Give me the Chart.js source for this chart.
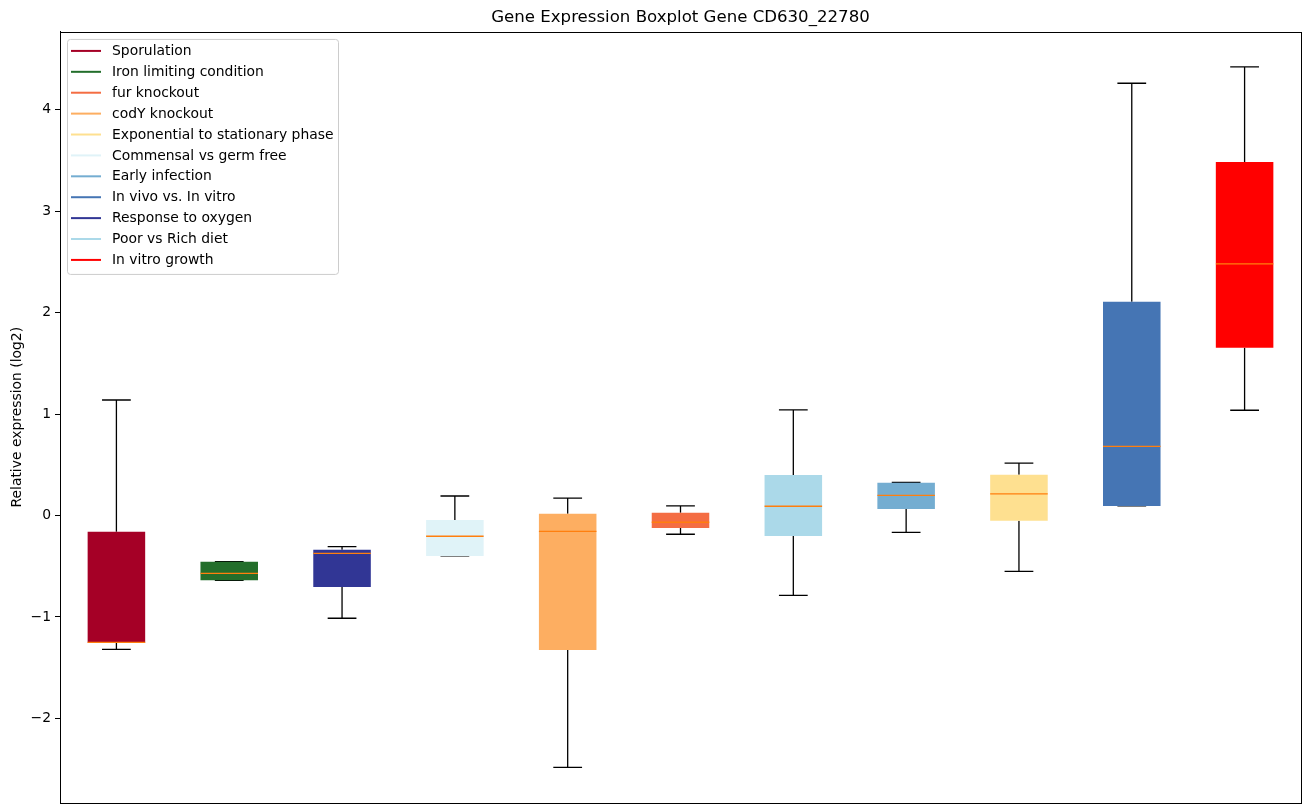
<!DOCTYPE html>
<html><head><meta charset="utf-8">
<script src="https://cdn.jsdelivr.net/npm/chart.js@4.4.0/dist/chart.umd.min.js"></script>
<style>html,body{margin:0;padding:0;background:#fff;} #wrap{width:1309px;height:812px;position:relative;}</style>
</head><body><div id="wrap"><canvas id="c"></canvas></div>
<script>
// ---- data ----
const categories = ["Sporulation","Iron limiting condition","Response to oxygen","Commensal vs germ free","codY knockout","fur knockout","Poor vs Rich diet","Early infection","Exponential to stationary phase","In vivo vs. In vitro","In vitro growth"];
const whiskerLow  = [-1.319,-0.639,-1.013,-0.399,-2.482,-0.185,-0.787,-0.166,-0.550,0.094,1.037];
const q1Values    = [-1.254,-0.639,-0.705,-0.399,-1.326,-0.123,-0.202,0.064,-0.051,0.094,1.654];
const medianValues= [-1.250,-0.570,-0.373,-0.205,-0.156,-0.067,0.091,0.199,0.212,0.682,2.479];
const q3Values    = [-0.160,-0.455,-0.337,-0.044,0.018,0.028,0.399,0.323,0.402,2.107,3.485];
const whiskerHigh = [1.138,-0.455,-0.308,0.192,0.170,0.094,1.040,0.327,0.515,4.260,4.421];
const legendLabels = ["Sporulation","Iron limiting condition","fur knockout","codY knockout","Exponential to stationary phase","Commensal vs germ free","Early infection","In vivo vs. In vitro","Response to oxygen","Poor vs Rich diet","In vitro growth"];
const titleText = "Gene Expression Boxplot Gene CD630_22780";
const yTitle = "Relative expression (log2)";

// ---- styles ----
const colorMap = {
  "Sporulation":"#a50026","Iron limiting condition":"#236e2b","fur knockout":"#f46d43","codY knockout":"#fdae61",
  "Exponential to stationary phase":"#fee090","Commensal vs germ free":"#e0f3f8","Early infection":"#74add1",
  "In vivo vs. In vitro":"#4575b4","Response to oxygen":"#313695","Poor vs Rich diet":"#abd9e9","In vitro growth":"#ff0000"
};
const FONT = "'DejaVu Sans', sans-serif";
const FS = 13.9;

const boxParts = {
  id: 'boxParts',
  beforeDatasetsDraw(chart) {
    const ctx = chart.ctx, xs = chart.scales.x, ys = chart.scales.y;
    const meta = chart.getDatasetMeta(0);
    ctx.save();
    ctx.strokeStyle = '#000'; ctx.lineWidth = 1.3;
    categories.forEach((c, i) => {
      const x = xs.getPixelForValue(i);
      const w = meta.data[i].width;
      const yl = ys.getPixelForValue(whiskerLow[i]), y1 = ys.getPixelForValue(q1Values[i]);
      const y3 = ys.getPixelForValue(q3Values[i]), yh = ys.getPixelForValue(whiskerHigh[i]);
      ctx.beginPath();
      ctx.moveTo(x, y3); ctx.lineTo(x, yh);
      ctx.moveTo(x, y1); ctx.lineTo(x, yl);
      ctx.moveTo(x - w/4, yh); ctx.lineTo(x + w/4, yh);
      ctx.moveTo(x - w/4, yl); ctx.lineTo(x + w/4, yl);
      ctx.stroke();
    });
    ctx.restore();
  },
  afterDatasetsDraw(chart) {
    const ctx = chart.ctx, xs = chart.scales.x, ys = chart.scales.y;
    const meta = chart.getDatasetMeta(0);
    ctx.save();
    ctx.strokeStyle = '#ff7f0e'; ctx.lineWidth = 1.3;
    categories.forEach((c, i) => {
      const x = xs.getPixelForValue(i);
      const w = meta.data[i].width;
      const ym = ys.getPixelForValue(medianValues[i]);
      ctx.beginPath(); ctx.moveTo(x - w/2, ym); ctx.lineTo(x + w/2, ym); ctx.stroke();
    });
    ctx.restore();
  },
  afterDraw(chart) {
    const ctx = chart.ctx, a = chart.chartArea;
    ctx.save();
    ctx.strokeStyle = '#000'; ctx.lineWidth = 1;
    ctx.strokeRect(Math.round(a.left)+0.5, Math.round(a.top)+0.5, Math.round(a.right-a.left), Math.round(a.bottom-a.top));
    // legend
    const lx = a.left + 7, ly = a.top + 7, lw = 271, lh = 235;
    ctx.fillStyle = 'rgba(255,255,255,0.8)';
    ctx.strokeStyle = '#cccccc';
    ctx.beginPath();
    if (ctx.roundRect) ctx.roundRect(lx+0.5, ly+0.5, lw, lh, 3); else ctx.rect(lx+0.5, ly+0.5, lw, lh);
    ctx.fill(); ctx.stroke();
    ctx.font = FS + "px " + FONT;
    ctx.textBaseline = 'middle';
    ctx.textAlign = 'left';
    legendLabels.forEach((lab, i) => {
      const y = ly + 12 + i * 20.9;
      ctx.strokeStyle = colorMap[lab]; ctx.lineWidth = 2;
      ctx.beginPath(); ctx.moveTo(lx + 4, y); ctx.lineTo(lx + 34, y); ctx.stroke();
      ctx.fillStyle = '#000';
      ctx.fillText(lab, lx + 45, y + 0.5);
    });
    ctx.restore();
  }
};

new Chart(document.getElementById('c'), {
  type: 'bar',
  data: {
    labels: categories,
    datasets: [{
      data: categories.map((c, i) => [q1Values[i], q3Values[i]]),
      backgroundColor: categories.map(c => colorMap[c]),
      borderWidth: 0,
      barPercentage: 0.51,
      categoryPercentage: 1.0
    }]
  },
  options: {
    responsive: true, maintainAspectRatio: false, animation: false,
    layout: { padding: { top: 0, right: 8, bottom: 9.5, left: 0 } },
    plugins: {
      legend: { display: false },
      tooltip: { enabled: false },
      title: { display: true, text: titleText, fullSize: false, color: '#000',
        font: { family: FONT, size: 16.6, weight: 'normal' }, padding: { top: 8, bottom: 4 } }
    },
    scales: {
      x: { display: false, offset: true, grid: { display: false } },
      y: {
        min: -2.829, max: 4.766,
        afterFit(s) { s.width = 60; s.paddingTop = 0; s.paddingBottom = 0; },
        afterBuildTicks(s) { s.ticks = s.ticks.filter(t => Math.abs(t.value - Math.round(t.value)) < 1e-9); },
        ticks: { stepSize: 1, color: '#000', font: { family: FONT, size: FS }, padding: 4,
          callback: v => String(v).replace('-', '\u2212') },
        grid: { drawOnChartArea: false, drawTicks: true, tickLength: 5, tickColor: '#000' },
        border: { display: true, color: '#000' },
        title: { display: true, text: yTitle, color: '#000', font: { family: FONT, size: FS }, padding: { top: 9, bottom: 0 } }
      }
    }
  },
  plugins: [boxParts]
});
</script>
</body></html>
